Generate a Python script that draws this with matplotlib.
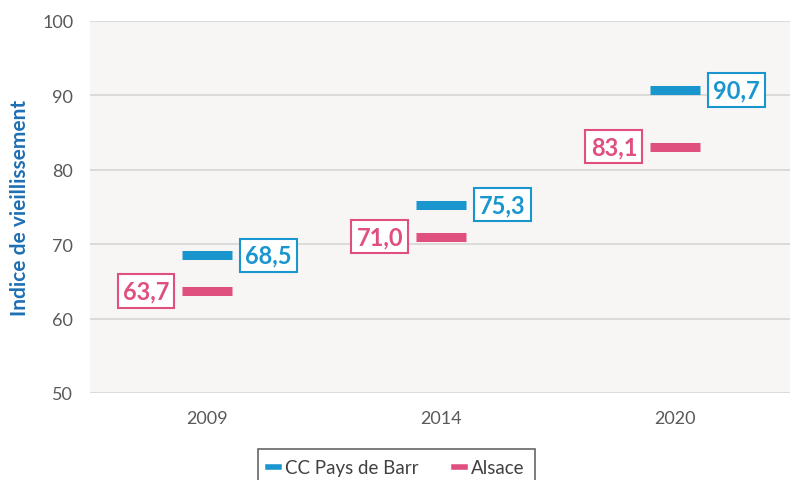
import matplotlib
matplotlib.use("Agg")
import matplotlib.pyplot as plt
from matplotlib.lines import Line2D
import numpy as np

years = ["2009", "2014", "2020"]
cc_barr = [68.5, 75.3, 90.7]
alsace = [63.7, 71.0, 83.1]
series_names = ["CC Pays de Barr", "Alsace"]
yticks = [50, 60, 70, 80, 90, 100]

blue = "#1A96CE"
pink = "#E0507F"
plt.rcParams['font.family'] = ['Lato', 'DejaVu Sans']

fig = plt.figure(figsize=(7.9, 4.81), dpi=100)
ax = fig.add_axes([90/790, 1-394/481, 702/790, (394-22)/481])
ax.set_facecolor("#F8F6F5")
fig.patch.set_facecolor("white")

x = np.arange(len(years)) + 0.5
hw = 0.105
ax.hlines(cc_barr, x - hw, x + hw, colors=blue, lw=6.5, zorder=3)
ax.hlines(alsace, x - hw, x + hw, colors=pink, lw=6.5, zorder=3)

def fmt(v):
    return f"{v:.1f}".replace(".", ",")

for xi, v in zip(x, cc_barr):
    ax.annotate(fmt(v), (xi, v), xytext=(44, 0), textcoords="offset points",
                ha="center", va="center", fontsize=17, fontweight="bold", color=blue,
                bbox=dict(boxstyle="square,pad=0.22", fc="white", ec=blue, lw=1.5), zorder=4)
for xi, v in zip(x, alsace):
    ax.annotate(fmt(v), (xi, v), xytext=(-44, 0), textcoords="offset points",
                ha="center", va="center", fontsize=17, fontweight="bold", color=pink,
                bbox=dict(boxstyle="square,pad=0.22", fc="white", ec=pink, lw=1.5), zorder=4)

ax.set_xlim(0, 3)
ax.set_ylim(50, 100)
ax.set_yticks(yticks)
ax.set_xticks(x)
ax.set_xticklabels(years)
ax.grid(axis="y", color="#D9D9D9", lw=1.3)
ax.set_axisbelow(True)
for s in ax.spines.values():
    s.set_visible(False)
ax.tick_params(length=0, labelsize=13, labelcolor="#595959")
ax.tick_params(axis="y", pad=12)
ax.tick_params(axis="x", pad=12)
ax.set_ylabel("Indice de vieillissement", color="#1F6FB4", fontsize=15, fontweight="bold", labelpad=8.5)

handles = [Line2D([0], [0], color=blue, lw=4), Line2D([0], [0], color=pink, lw=4)]
leg = fig.legend(handles, series_names, loc="upper center", bbox_to_anchor=(396/790, 1-450/481),
                 ncol=2, frameon=True, fancybox=False, fontsize=13.5, handlelength=0.6,
                 handletextpad=0.3, columnspacing=1.9, borderpad=0.55, borderaxespad=0,
                 labelcolor="#404040")
leg.get_frame().set_edgecolor("#404040")
leg.get_frame().set_linewidth(1.2)

fig.savefig("out.png", dpi=100)
